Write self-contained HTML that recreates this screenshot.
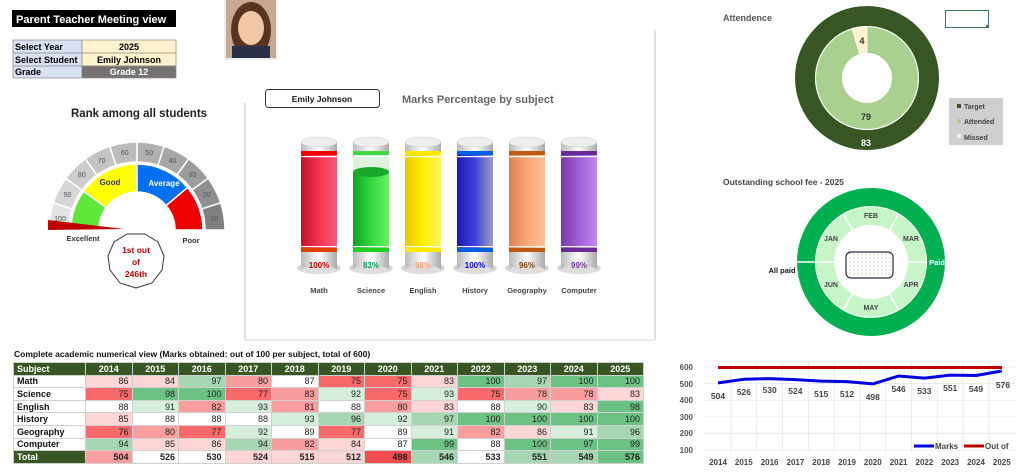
<!DOCTYPE html>
<html><head><meta charset="utf-8"><style>
body{margin:0;width:1024px;height:473px;background:#fff;position:relative;overflow:hidden;font-family:"Liberation Sans",sans-serif}
svg{position:absolute;left:0;top:0}
table{position:absolute;left:13px;top:362px;border-collapse:collapse;font-size:9px;table-layout:fixed;width:630px}
td{height:11.6px;padding:0 3px;border:1px solid #d0d0d0;text-align:right;line-height:10px;color:#222}
td:first-child{text-align:left;font-weight:bold;color:#111}
tr.h td{background:#375623;color:#fff;font-weight:bold;text-align:center}
tr.h td:first-child{text-align:left}
tr.t td{font-weight:bold}
tr.t td:first-child{background:#375623;color:#fff}
.R3{background:#f8696b}.R2{background:#fa9d9f}.R1{background:#fcd5d6}.W{background:#fff}.G1{background:#d6eedc}.G2{background:#a6d7b2}.G3{background:#6cc283}
.R4{background:#f24e50}
</style></head><body>
<svg width="1024" height="473" viewBox="0 0 1024 473" font-family="Liberation Sans, sans-serif">
<defs>
<linearGradient id="cap" x1="0" x2="1"><stop offset="0" stop-color="#bbb"/><stop offset=".5" stop-color="#fff"/><stop offset="1" stop-color="#aaa"/></linearGradient>
<linearGradient id="gm" x1="0" x2="1"><stop offset="0" stop-color="#c0102a"/><stop offset=".5" stop-color="#f23550"/><stop offset="1" stop-color="#f85a78"/></linearGradient>
<linearGradient id="gs" x1="0" x2="1"><stop offset="0" stop-color="#10a020"/><stop offset=".5" stop-color="#30d840"/><stop offset="1" stop-color="#6af060"/></linearGradient>
<linearGradient id="ge" x1="0" x2="1"><stop offset="0" stop-color="#e8c800"/><stop offset=".5" stop-color="#ffee00"/><stop offset="1" stop-color="#fff266"/></linearGradient>
<linearGradient id="gh" x1="0" x2="1"><stop offset="0" stop-color="#1a1ab0"/><stop offset=".5" stop-color="#4040e0"/><stop offset="1" stop-color="#9aa0c0"/></linearGradient>
<linearGradient id="gg" x1="0" x2="1"><stop offset="0" stop-color="#e08050"/><stop offset=".5" stop-color="#f8a878"/><stop offset="1" stop-color="#ffc098"/></linearGradient>
<linearGradient id="gc" x1="0" x2="1"><stop offset="0" stop-color="#7a3aa8"/><stop offset=".5" stop-color="#a060d8"/><stop offset="1" stop-color="#c088f0"/></linearGradient>
<pattern id="dots" width="4" height="4" patternUnits="userSpaceOnUse"><rect width="4" height="4" fill="#fff"/><circle cx="2" cy="2" r=".6" fill="#e0a0b0"/></pattern>
</defs>
<rect x="12" y="10" width="164" height="17" fill="#000"/>
<text x="16" y="23" fill="#fff" font-size="11" font-weight="bold">Parent Teacher Meeting view</text>
<g font-size="9" font-weight="bold">
<rect x="13" y="40" width="69" height="38" fill="#d9e1f2" stroke="#888" stroke-width=".7"/>
<rect x="82" y="40" width="94" height="26" fill="#fff2cc" stroke="#888" stroke-width=".7"/>
<rect x="82" y="66" width="94" height="12" fill="#767171" stroke="#888" stroke-width=".7"/>
<line x1="13" y1="53" x2="176" y2="53" stroke="#888" stroke-width=".7"/>
<line x1="13" y1="66" x2="176" y2="66" stroke="#888" stroke-width=".7"/>
<text x="15" y="50">Select Year</text><text x="15" y="63">Select Student</text><text x="15" y="75">Grade</text>
<text x="129" y="50" text-anchor="middle">2025</text><text x="129" y="63" text-anchor="middle">Emily Johnson</text>
<text x="129" y="75" text-anchor="middle" fill="#fff">Grade 12</text>
</g>
<rect x="224" y="0" width="54" height="60" fill="#eee"/>
<rect x="226" y="0" width="50" height="58" fill="#c8a890"/>
<ellipse cx="251" cy="30" rx="20" ry="28" fill="#5a3420"/>
<ellipse cx="251" cy="28" rx="13" ry="17" fill="#f0c8a8"/>
<rect x="232" y="46" width="38" height="12" fill="#2a3048"/>
<line x1="245" y1="103" x2="245" y2="340" stroke="#b4c0d4"/>
<line x1="655" y1="30" x2="655" y2="340" stroke="#b4c0d4"/>
<line x1="245" y1="340" x2="655" y2="340" stroke="#d0d8e4"/>
<text x="139" y="117" text-anchor="middle" font-size="11.5" font-weight="bold" fill="#222">Rank among all students</text>
<g stroke="#fff" stroke-width="1.5">
<path d="M49,230 A88,88 0 0 1 53.3,202.8 L72.3,209 A68,68 0 0 0 69,230Z" fill="#e2e2e2"/>
<path d="M53.3,202.8 A88,88 0 0 1 65.8,178.3 L82,190 A68,68 0 0 0 72.3,209Z" fill="#d6d6d6"/>
<path d="M65.8,178.3 A88,88 0 0 1 85.3,158.8 L97,175 A68,68 0 0 0 82,190Z" fill="#cccccc"/>
<path d="M85.3,158.8 A88,88 0 0 1 109.8,146.3 L116,165.3 A68,68 0 0 0 97,175Z" fill="#c4c4c4"/>
<path d="M109.8,146.3 A88,88 0 0 1 137,142 L137,162 A68,68 0 0 0 116,165.3Z" fill="#bcbcbc"/>
<path d="M137,142 A88,88 0 0 1 164.2,146.3 L158,165.3 A68,68 0 0 0 137,162Z" fill="#b0b0b0"/>
<path d="M164.2,146.3 A88,88 0 0 1 188.7,158.8 L177,175 A68,68 0 0 0 158,165.3Z" fill="#a6a6a6"/>
<path d="M188.7,158.8 A88,88 0 0 1 208.2,178.3 L192,190 A68,68 0 0 0 177,175Z" fill="#9c9c9c"/>
<path d="M208.2,178.3 A88,88 0 0 1 220.7,202.8 L201.7,209 A68,68 0 0 0 192,190Z" fill="#8e8e8e"/>
<path d="M220.7,202.8 A88,88 0 0 1 225,230 L205,230 A68,68 0 0 0 201.7,209Z" fill="#808080"/>
<path d="M71,230 A66,66 0 0 1 83.6,191.2 L106.3,207.7 A38,38 0 0 0 99,230Z" fill="#5ee83a"/>
<path d="M83.6,191.2 A66,66 0 0 1 137,164 L137,192 A38,38 0 0 0 106.3,207.7Z" fill="#ffff00"/>
<path d="M137,164 A66,66 0 0 1 187.6,187.6 L166.1,205.6 A38,38 0 0 0 137,192Z" fill="#0070f0"/>
<path d="M187.6,187.6 A66,66 0 0 1 203,230 L175,230 A38,38 0 0 0 166.1,205.6Z" fill="#ee0000"/>
</g>
<g font-size="7" fill="#555" text-anchor="middle">
<text x="60" y="221">100</text><text x="67.5" y="197">90</text><text x="81.8" y="177">80</text><text x="101.6" y="163">70</text><text x="124.8" y="155">60</text><text x="149.2" y="155">50</text><text x="172.4" y="163">40</text><text x="192.2" y="177">30</text><text x="206.5" y="197">20</text><text x="214" y="221">10</text>
</g>
<text x="110" y="185" font-size="8" font-weight="bold" text-anchor="middle" fill="#333">Good</text>
<text x="164" y="186" font-size="8" font-weight="bold" text-anchor="middle" fill="#fff">Average</text>
<path d="M48,220 L124,229 L48,230Z" fill="#c00000"/>
<text x="83" y="241" font-size="7.5" font-weight="bold" text-anchor="middle" fill="#333">Excellent</text>
<text x="191" y="243" font-size="7.5" font-weight="bold" text-anchor="middle" fill="#333">Poor</text>
<polygon points="145,234 158,242 164,256 162,270 152,283 136,288 120,283 110,270 108,256 114,242 127,234" fill="#fff" stroke="#333" stroke-width="1"/>
<g font-size="8.5" font-weight="bold" fill="#c00000" text-anchor="middle"><text x="136" y="253">1st out</text><text x="136" y="265">of</text><text x="136" y="277">246th</text></g>
<rect x="265.5" y="89.5" width="114" height="18" rx="3" fill="#fff" stroke="#333"/>
<text x="322" y="102" font-size="8.5" font-weight="bold" text-anchor="middle" fill="#111">Emily Johnson</text>
<text x="402" y="103" font-size="11" font-weight="bold" fill="#666">Marks Percentage by subject</text>
<g font-size="8" font-weight="bold">
<g transform="translate(319,0)">
<ellipse cx="0" cy="268" rx="22" ry="6" fill="#bbb" opacity=".6"/>
<rect x="-18" y="252" width="36" height="18" fill="url(#cap)"/><ellipse cx="0" cy="270" rx="18" ry="4" fill="#ddd"/>
<rect x="-18" y="152" width="36" height="100" fill="url(#gm)"/>
<rect x="-18" y="151" width="36" height="4" fill="#e00"/><rect x="-18" y="156" width="36" height="1.2" fill="#fff"/>
<rect x="-18" y="248" width="36" height="4" fill="#e04000"/><rect x="-18" y="246" width="36" height="1.2" fill="#fff"/>
<rect x="-18" y="142" width="36" height="9" fill="url(#cap)"/><ellipse cx="0" cy="142" rx="18" ry="5" fill="#eee" stroke="#ccc" stroke-width=".5"/>
<text x="0" y="268" text-anchor="middle" fill="#c00000">100%</text>
<text x="0" y="293" text-anchor="middle" fill="#444" font-size="7.5">Math</text></g>
<g transform="translate(371,0)">
<ellipse cx="0" cy="268" rx="22" ry="6" fill="#bbb" opacity=".6"/>
<rect x="-18" y="252" width="36" height="18" fill="url(#cap)"/><ellipse cx="0" cy="270" rx="18" ry="4" fill="#ddd"/>
<rect x="-18" y="152" width="36" height="20" fill="#dff2e0"/>
<rect x="-18" y="172" width="36" height="80" fill="url(#gs)"/><ellipse cx="0" cy="172" rx="18" ry="5" fill="#1aa82a"/>
<rect x="-18" y="151" width="36" height="4" fill="#40d840"/><rect x="-18" y="156" width="36" height="1.2" fill="#fff"/>
<rect x="-18" y="248" width="36" height="4" fill="#20d020"/><rect x="-18" y="246" width="36" height="1.2" fill="#fff"/>
<rect x="-18" y="142" width="36" height="9" fill="url(#cap)"/><ellipse cx="0" cy="142" rx="18" ry="5" fill="#eee" stroke="#ccc" stroke-width=".5"/>
<text x="0" y="268" text-anchor="middle" fill="#00a050">83%</text>
<text x="0" y="293" text-anchor="middle" fill="#444" font-size="7.5">Science</text></g>
<g transform="translate(423,0)">
<ellipse cx="0" cy="268" rx="22" ry="6" fill="#bbb" opacity=".6"/>
<rect x="-18" y="252" width="36" height="18" fill="url(#cap)"/><ellipse cx="0" cy="270" rx="18" ry="4" fill="#ddd"/>
<rect x="-18" y="152" width="36" height="100" fill="url(#ge)"/>
<rect x="-18" y="151" width="36" height="4" fill="#ffe800"/><rect x="-18" y="156" width="36" height="1.2" fill="#fff"/>
<rect x="-18" y="248" width="36" height="4" fill="#ffe800"/><rect x="-18" y="246" width="36" height="1.2" fill="#fff"/>
<rect x="-18" y="142" width="36" height="9" fill="url(#cap)"/><ellipse cx="0" cy="142" rx="18" ry="5" fill="#eee" stroke="#ccc" stroke-width=".5"/>
<text x="0" y="268" text-anchor="middle" fill="#f4a070">98%</text>
<text x="0" y="293" text-anchor="middle" fill="#444" font-size="7.5">English</text></g>
<g transform="translate(475,0)">
<ellipse cx="0" cy="268" rx="22" ry="6" fill="#bbb" opacity=".6"/>
<rect x="-18" y="252" width="36" height="18" fill="url(#cap)"/><ellipse cx="0" cy="270" rx="18" ry="4" fill="#ddd"/>
<rect x="-18" y="152" width="36" height="100" fill="url(#gh)"/>
<rect x="-18" y="151" width="36" height="4" fill="#0060e0"/><rect x="-18" y="156" width="36" height="1.2" fill="#fff"/>
<rect x="-18" y="248" width="36" height="4" fill="#0060e0"/><rect x="-18" y="246" width="36" height="1.2" fill="#fff"/>
<rect x="-18" y="142" width="36" height="9" fill="url(#cap)"/><ellipse cx="0" cy="142" rx="18" ry="5" fill="#eee" stroke="#ccc" stroke-width=".5"/>
<text x="0" y="268" text-anchor="middle" fill="#0000cc">100%</text>
<text x="0" y="293" text-anchor="middle" fill="#444" font-size="7.5">History</text></g>
<g transform="translate(527,0)">
<ellipse cx="0" cy="268" rx="22" ry="6" fill="#bbb" opacity=".6"/>
<rect x="-18" y="252" width="36" height="18" fill="url(#cap)"/><ellipse cx="0" cy="270" rx="18" ry="4" fill="#ddd"/>
<rect x="-18" y="152" width="36" height="100" fill="url(#gg)"/>
<rect x="-18" y="151" width="36" height="4" fill="#c05a10"/><rect x="-18" y="156" width="36" height="1.2" fill="#fff"/>
<rect x="-18" y="248" width="36" height="4" fill="#c05a10"/><rect x="-18" y="246" width="36" height="1.2" fill="#fff"/>
<rect x="-18" y="142" width="36" height="9" fill="url(#cap)"/><ellipse cx="0" cy="142" rx="18" ry="5" fill="#eee" stroke="#ccc" stroke-width=".5"/>
<text x="0" y="268" text-anchor="middle" fill="#843c0c">96%</text>
<text x="0" y="293" text-anchor="middle" fill="#444" font-size="7.5">Geography</text></g>
<g transform="translate(579,0)">
<ellipse cx="0" cy="268" rx="22" ry="6" fill="#bbb" opacity=".6"/>
<rect x="-18" y="252" width="36" height="18" fill="url(#cap)"/><ellipse cx="0" cy="270" rx="18" ry="4" fill="#ddd"/>
<rect x="-18" y="152" width="36" height="100" fill="url(#gc)"/>
<rect x="-18" y="151" width="36" height="4" fill="#6a2a98"/><rect x="-18" y="156" width="36" height="1.2" fill="#fff"/>
<rect x="-18" y="248" width="36" height="4" fill="#6a2a98"/><rect x="-18" y="246" width="36" height="1.2" fill="#fff"/>
<rect x="-18" y="142" width="36" height="9" fill="url(#cap)"/><ellipse cx="0" cy="142" rx="18" ry="5" fill="#eee" stroke="#ccc" stroke-width=".5"/>
<text x="0" y="268" text-anchor="middle" fill="#7030a0">99%</text>
<text x="0" y="293" text-anchor="middle" fill="#444" font-size="7.5">Computer</text></g>
</g>
<text x="723" y="21" font-size="9" font-weight="bold" fill="#555">Attendence</text>
<rect x="945.5" y="10.5" width="43" height="17" fill="#fff" stroke="#3a7a50"/>
<rect x="986" y="25" width="3" height="3" fill="#3a7a50"/>
<circle cx="867" cy="78" r="62" fill="none" stroke="#375623" stroke-width="20"/>
<circle cx="867" cy="78" r="38" fill="none" stroke="#a9d08e" stroke-width="26"/>
<circle cx="867" cy="78" r="51.5" fill="none" stroke="#fff" stroke-width="1"/>
<path d="M867,27 A51,51 0 0 0 852.1,29.2 L859.7,54.1 A25,25 0 0 1 867,53Z" fill="#fff2cc" stroke="#fff" stroke-width=".8"/>
<text x="862" y="44" font-size="9" font-weight="bold" fill="#333" text-anchor="middle">4</text>
<text x="866" y="120" font-size="9" font-weight="bold" fill="#333" text-anchor="middle">79</text>
<text x="866" y="146" font-size="9" font-weight="bold" fill="#fff" text-anchor="middle">83</text>
<rect x="949" y="98" width="54" height="47" fill="#d0cece"/>
<g font-size="7" font-weight="bold" fill="#444"><rect x="957" y="104" width="4" height="4" fill="#375623"/><text x="964" y="109">Target</text>
<rect x="957" y="119" width="4" height="4" fill="#a9d08e"/><text x="964" y="124">Attended</text>
<rect x="957" y="134" width="4" height="4" fill="#fff2cc"/><text x="964" y="140">Missed</text></g>
<text x="723" y="185" font-size="8.5" font-weight="bold" fill="#444">Outstanding school fee - 2025</text>
<circle cx="871" cy="262" r="65" fill="none" stroke="#00b050" stroke-width="18"/>
<circle cx="871" cy="262" r="46" fill="none" stroke="#c8f5c8" stroke-width="18"/>
<g stroke="#fff" stroke-width="1.5">
<line x1="797" y1="262" x2="834" y2="262"/><line x1="908" y1="262" x2="927" y2="262"/>
<line x1="852.5" y1="230" x2="843.5" y2="214.4"/><line x1="889.5" y1="230" x2="898.5" y2="214.4"/>
<line x1="852.5" y1="294" x2="843.5" y2="309.6"/><line x1="889.5" y1="294" x2="898.5" y2="309.6"/>
</g>
<g font-size="7" font-weight="bold" fill="#444" text-anchor="middle">
<text x="831" y="241">JAN</text><text x="871" y="218">FEB</text><text x="911" y="241">MAR</text><text x="911" y="287">APR</text><text x="871" y="310">MAY</text><text x="831" y="287">JUN</text></g>
<text x="937" y="265" font-size="7.5" font-weight="bold" fill="#fff" text-anchor="middle">Paid</text>
<text x="782" y="273" font-size="7.5" font-weight="bold" fill="#111" text-anchor="middle">All paid</text>
<rect x="846" y="252" width="47" height="26" rx="5" fill="url(#dots)" stroke="#2a2a40" stroke-width="1.2"/>
<g stroke="#e4e4e4" stroke-width=".7">
<line x1="705" y1="367" x2="1015" y2="367"/><line x1="705" y1="383.6" x2="1015" y2="383.6"/><line x1="705" y1="400.2" x2="1015" y2="400.2"/><line x1="705" y1="416.8" x2="1015" y2="416.8"/><line x1="705" y1="433.4" x2="1015" y2="433.4"/><line x1="705" y1="450" x2="1015" y2="450"/>
<line x1="730.9" y1="362" x2="730.9" y2="452"/><line x1="756.7" y1="362" x2="756.7" y2="452"/><line x1="782.5" y1="362" x2="782.5" y2="452"/><line x1="808.3" y1="362" x2="808.3" y2="452"/><line x1="834.1" y1="362" x2="834.1" y2="452"/><line x1="859.9" y1="362" x2="859.9" y2="452"/><line x1="885.7" y1="362" x2="885.7" y2="452"/><line x1="911.5" y1="362" x2="911.5" y2="452"/><line x1="937.3" y1="362" x2="937.3" y2="452"/><line x1="963.1" y1="362" x2="963.1" y2="452"/><line x1="988.9" y1="362" x2="988.9" y2="452"/>
</g>
<g font-size="8" font-weight="bold" fill="#555" text-anchor="end">
<text x="693" y="370">600</text><text x="693" y="387">500</text><text x="693" y="403">400</text><text x="693" y="420">300</text><text x="693" y="436">200</text><text x="693" y="453">100</text></g>
<line x1="718" y1="367.5" x2="1002" y2="367.5" stroke="#c00000" stroke-width="3"/>
<polyline points="718,382.9 743.8,379.3 769.6,378.6 795.4,379.6 821.2,381.1 847,381.6 872.8,383.9 898.6,376 924.4,378.1 950.2,375.1 976,375.5 1001.8,371" fill="none" stroke="#0000e0" stroke-width="3" stroke-linejoin="round"/>
<g font-size="8.5" font-weight="bold" fill="#444" text-anchor="middle">
<text x="718" y="399">504</text><text x="743.8" y="395">526</text><text x="769.6" y="393">530</text><text x="795.4" y="394">524</text><text x="821.2" y="397">515</text><text x="847" y="397">512</text><text x="872.8" y="400">498</text><text x="898.6" y="392">546</text><text x="924.4" y="394">533</text><text x="950.2" y="391">551</text><text x="976" y="392">549</text><text x="1003" y="388">576</text></g>
<g font-size="8" font-weight="bold" fill="#444" text-anchor="middle">
<text x="718" y="465">2014</text><text x="743.8" y="465">2015</text><text x="769.6" y="465">2016</text><text x="795.4" y="465">2017</text><text x="821.2" y="465">2018</text><text x="847" y="465">2019</text><text x="872.8" y="465">2020</text><text x="898.6" y="465">2021</text><text x="924.4" y="465">2022</text><text x="950.2" y="465">2023</text><text x="976" y="465">2024</text><text x="1001.8" y="465">2025</text></g>
<line x1="914" y1="446" x2="934" y2="446" stroke="#0000e0" stroke-width="3"/>
<text x="935" y="449" font-size="8" font-weight="bold" fill="#444">Marks</text>
<line x1="964" y1="446" x2="984" y2="446" stroke="#c00000" stroke-width="3"/>
<text x="985" y="449" font-size="8" font-weight="bold" fill="#444">Out of</text>
<text x="14" y="357" font-size="8.5" font-weight="bold" fill="#111">Complete academic numerical view (Marks obtained: out of 100 per subject, total of 600)</text>
</svg>
<table>
<colgroup><col style="width:72px"><col span="12" style="width:46.5px"></colgroup>
<tr class="h"><td>Subject</td><td>2014</td><td>2015</td><td>2016</td><td>2017</td><td>2018</td><td>2019</td><td>2020</td><td>2021</td><td>2022</td><td>2023</td><td>2024</td><td>2025</td></tr>
<tr><td>Math</td><td class="R1">86</td><td class="R1">84</td><td class="G2">97</td><td class="R2">80</td><td class="W">87</td><td class="R3">75</td><td class="R3">75</td><td class="R1">83</td><td class="G3">100</td><td class="G2">97</td><td class="G3">100</td><td class="G3">100</td></tr>
<tr><td>Science</td><td class="R3">75</td><td class="G3">98</td><td class="G3">100</td><td class="R3">77</td><td class="R2">83</td><td class="G1">92</td><td class="R3">75</td><td class="G1">93</td><td class="R3">75</td><td class="R2">78</td><td class="R2">78</td><td class="R1">83</td></tr>
<tr><td>English</td><td class="W">88</td><td class="G1">91</td><td class="R2">82</td><td class="G1">93</td><td class="R2">81</td><td class="W">88</td><td class="R2">80</td><td class="R1">83</td><td class="W">88</td><td class="G1">90</td><td class="R1">83</td><td class="G3">98</td></tr>
<tr><td>History</td><td class="R1">85</td><td class="W">88</td><td class="W">88</td><td class="W">88</td><td class="G1">93</td><td class="G2">96</td><td class="G1">92</td><td class="G2">97</td><td class="G3">100</td><td class="G3">100</td><td class="G3">100</td><td class="G3">100</td></tr>
<tr><td>Geography</td><td class="R3">76</td><td class="R2">80</td><td class="R3">77</td><td class="G1">92</td><td class="W">89</td><td class="R3">77</td><td class="W">89</td><td class="G1">91</td><td class="R2">82</td><td class="R1">86</td><td class="G1">91</td><td class="G2">96</td></tr>
<tr><td>Computer</td><td class="G2">94</td><td class="R1">85</td><td class="R1">86</td><td class="G2">94</td><td class="R2">82</td><td class="R1">84</td><td class="W">87</td><td class="G3">99</td><td class="W">88</td><td class="G3">100</td><td class="G3">97</td><td class="G3">99</td></tr>
<tr class="t"><td>Total</td><td class="R2">504</td><td class="W">526</td><td class="W">530</td><td class="R1">524</td><td class="R1">515</td><td class="R1">512</td><td class="R4">498</td><td class="G2">546</td><td class="W">533</td><td class="G2">551</td><td class="G2">549</td><td class="G3">576</td></tr>
</table>
</body></html>
